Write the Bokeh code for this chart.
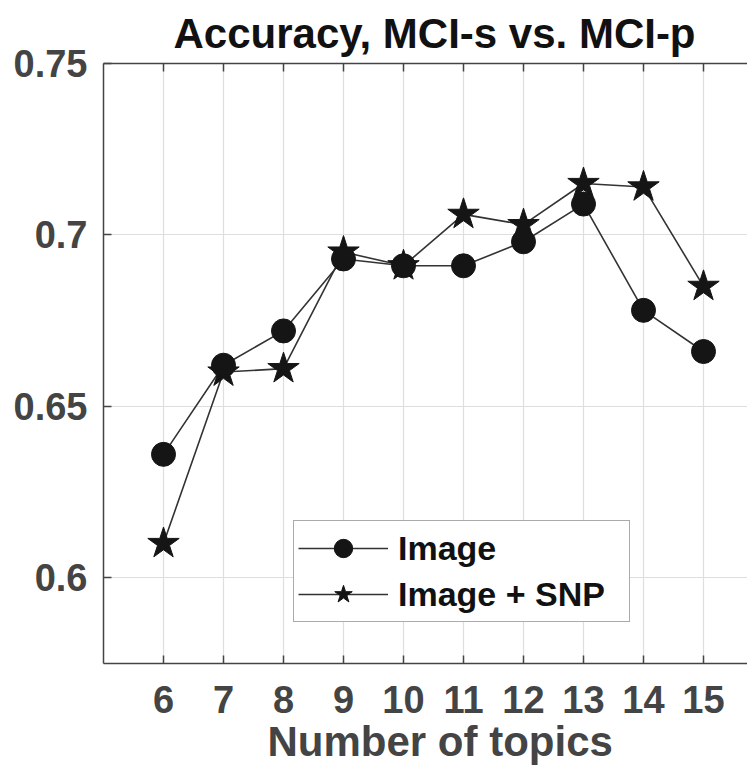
from bokeh.plotting import figure
from bokeh.models import Legend, LegendItem, LinearAxis, FixedTicker, Title, Range1d
from bokeh.embed import file_html
from bokeh.resources import INLINE

# ---- data ----
topics = [6, 7, 8, 9, 10, 11, 12, 13, 14, 15]
acc_image = [0.636, 0.662, 0.672, 0.693, 0.691, 0.691, 0.698, 0.709, 0.678, 0.666]
acc_image_snp = [0.610, 0.660, 0.661, 0.695, 0.691, 0.706, 0.703, 0.715, 0.714, 0.685]
x_ticks = [6, 7, 8, 9, 10, 11, 12, 13, 14, 15, 16]
x_tick_labels = {t: str(t) for t in x_ticks}
y_ticks = [0.6, 0.65, 0.7, 0.75]
y_tick_labels = {0.6: "0.6", 0.65: "0.65", 0.7: "0.7", 0.75: "0.75"}
title_text = "Accuracy, MCI-s vs. MCI-p"
x_label = "Number of topics"
series_names = ["Image", "Image + SNP"]

FONT = "Liberation Sans"
AX_COL = "#444444"
LINE_COL = "#333333"
MARK_COL = "#151515"

W, H = 747, 767
LEFT, TOP, BOTTOM = 103, 63, 104
frame_w = W - LEFT
X0, Y0, Y1 = 5.0, 0.575, 0.75
px_per_x = 60.0

p = figure(width=W, height=H, output_backend="svg", toolbar_location=None,
           x_range=Range1d(X0, X0 + frame_w / px_per_x), y_range=Range1d(Y0, Y1),
           min_border_left=LEFT, min_border_right=0, min_border_top=TOP,
           min_border_bottom=BOTTOM, background_fill_color="white",
           border_fill_color="white", outline_line_color=None, title=None)

# axes
for ax in (p.xaxis[0], p.yaxis[0]):
    ax.axis_line_color = AX_COL
    ax.axis_line_width = 1.5
    ax.major_tick_line_color = AX_COL
    ax.major_tick_line_width = 1.5
    ax.major_tick_in = 8
    ax.major_tick_out = 0
    ax.minor_tick_line_color = None
    ax.major_label_text_font = FONT
    ax.major_label_text_font_style = "bold"
    ax.major_label_text_font_size = "38px"
    ax.major_label_text_color = AX_COL

p.xaxis[0].ticker = FixedTicker(ticks=x_ticks)
p.xaxis[0].major_label_overrides = x_tick_labels
p.xaxis[0].major_label_standoff = 22
p.yaxis[0].ticker = FixedTicker(ticks=y_ticks)
p.yaxis[0].major_label_overrides = y_tick_labels
p.yaxis[0].major_label_standoff = 16

top_axis = LinearAxis(ticker=FixedTicker(ticks=x_ticks), axis_line_color=AX_COL,
                      axis_line_width=1.5, major_tick_line_color=AX_COL,
                      major_tick_line_width=1.5, major_tick_in=8, major_tick_out=0,
                      minor_tick_line_color=None, major_label_text_color=None,
                      major_label_text_font_size="1px", major_label_standoff=0)
p.add_layout(top_axis, "above")

p.xgrid.ticker = FixedTicker(ticks=x_ticks)
p.ygrid.ticker = FixedTicker(ticks=y_ticks)
p.xgrid.grid_line_color = "#dedede"
p.ygrid.grid_line_color = "#dedede"
p.xgrid.grid_line_width = 1.2
p.ygrid.grid_line_width = 1.2

# title and x label
p.add_layout(Title(text=title_text, align="left", offset=70, text_font=FONT,
                   text_font_style="bold", text_font_size="42px",
                   text_color="#111111", standoff=13), "above")
p.add_layout(Title(text=x_label, align="left", offset=164, text_font=FONT,
                   text_font_style="bold", text_font_size="42px",
                   text_color=AX_COL, standoff=0), "below")

# data
l1 = p.line(topics, acc_image, line_color=LINE_COL, line_width=1.6)
l2 = p.line(topics, acc_image_snp, line_color=LINE_COL, line_width=1.6)
s2 = p.scatter(topics, acc_image_snp, marker="star", size=33,
               fill_color=MARK_COL, line_color=MARK_COL)
s1 = p.scatter(topics, acc_image, marker="circle", size=24,
               fill_color=MARK_COL, line_color=MARK_COL)

legend = Legend(items=[LegendItem(label=series_names[0], renderers=[l1, s1]),
                       LegendItem(label=series_names[1], renderers=[l2, s2])],
                location=(190, 41), margin=0, padding=4, spacing=0,
                glyph_width=90, glyph_height=46, label_height=46,
                label_standoff=10, label_width=227,
                label_text_font=FONT, label_text_font_style="bold",
                label_text_font_size="34px", label_text_color="#111111",
                border_line_color="#555555", border_line_width=1.5,
                background_fill_color="white", background_fill_alpha=1.0)
p.add_layout(legend, "center")

open("out.html", "w").write(file_html(p, INLINE))
